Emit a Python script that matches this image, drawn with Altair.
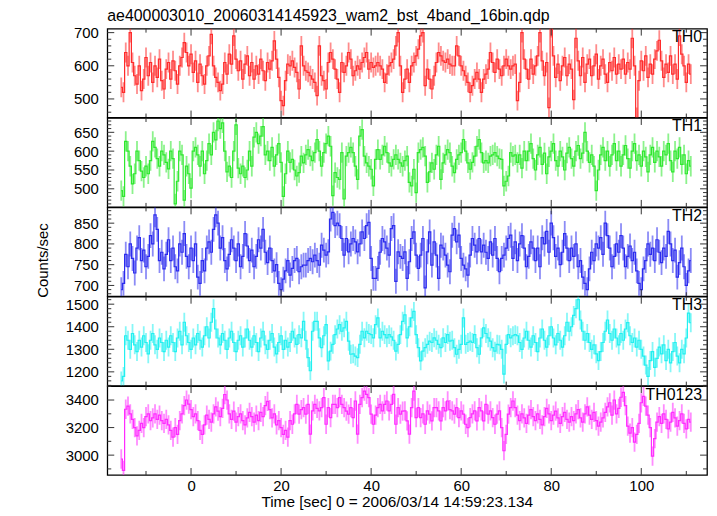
import altair as alt
import pandas as pd

# ---------------- data: 0.5 s bins starting at t = -15.5 s ----------------
T0 = -15.5
DT = 0.5

TH0 = [
    # -15.5 .. 21.5
    535, 520, 640, 600, 700, 610, 570, 545, 600, 525, 560, 625, 570, 610, 550, 600, 565, 620, 555, 530,
    590, 610, 560, 615, 585, 545, 600, 625, 670, 640, 600, 635, 580, 615, 550, 605, 570, 545, 600, 630,
    695, 600, 565, 550, 525, 545, 610, 575, 635, 605, 690, 620, 585, 615, 560, 605, 630, 570, 610, 560,
    600, 575, 620, 585, 555, 610, 590, 615, 675, 620, 565, 495, 480, 555, 605,
    # 22 .. 72
    600, 615, 595, 580, 530, 660, 600, 585, 580, 570,
    560, 550, 510, 660, 570, 555, 530, 610, 640, 620,
    590, 560, 520, 610, 580, 600, 640, 620, 570, 585,
    600, 590, 610, 625, 640, 590, 610, 595, 600, 610,
    600, 590, 550, 575, 600, 610, 620, 660, 700, 600,
    520, 560, 590, 550, 600, 610, 630, 650, 690, 700,
    540, 590, 560, 530, 570, 610, 640, 630, 615, 610,
    620, 605, 600, 600, 660, 630, 600, 585, 570, 550,
    520, 540, 560, 580, 560, 520, 560, 575, 590, 640,
    610, 580, 620, 590, 570, 600, 620, 600, 590, 600,
    605,
    # 72.5 .. 111
    495, 550, 700, 620,
    590, 560, 620, 575, 600, 630, 700, 615, 570, 610, 474, 715, 630, 565, 605, 555, 600, 625, 570, 605,
    590, 498, 683, 615, 570, 625, 550, 605, 620, 570, 600, 635, 560, 600, 620, 575, 550, 610, 585, 625,
    575, 605, 590, 620, 575, 610, 590, 683, 600, 444, 555, 615, 585, 630, 565, 605, 575, 620, 645, 677,
    615, 565, 605, 580, 630, 575, 605, 560, 690, 635, 600, 550, 605, 575,
]

TH1 = [
    495, 480, 626, 600, 560, 513, 540, 600, 575, 547, 530, 560, 540, 575, 626, 610, 580, 560, 600, 590,
    570, 553, 600, 580, 460, 520, 600, 590, 470, 560, 540, 502, 600, 610, 590, 560, 600, 540, 575, 620,
    590, 650, 630, 680, 660, 675, 600, 545, 560, 530, 600, 670, 555, 540, 560, 530, 550, 600, 560, 637,
    650, 620, 640, 665, 590, 600, 575, 610, 560, 590, 620, 570, 480, 540, 600,
    570, 578, 550, 534, 543, 587, 569, 590, 604, 587,
    575, 596, 631, 600, 560, 596, 620, 640, 613, 482,
    543, 530, 525, 596, 473, 587, 596, 610, 596, 560,
    525, 640, 657, 587, 569, 560, 552, 508, 578, 604,
    578, 590, 613, 596, 569, 560, 578, 590, 578, 569,
    560, 575, 587, 517, 508, 552, 490, 596, 604, 610,
    587, 517, 545, 569, 552, 590, 613, 525, 569, 590,
    604, 596, 560, 543, 578, 590, 596, 631, 600, 569,
    552, 570, 587, 613, 631, 596, 569, 575, 569, 587,
    590, 596, 587, 580, 578, 508, 520, 534, 596, 587,
    590,
    570, 590, 555, 600,
    575, 600, 620, 580, 550, 590, 610, 565, 595, 540, 585, 600, 620, 575, 560, 600, 585, 550, 595, 610,
    580, 560, 600, 615, 580, 595, 650, 600, 570, 590, 560, 495, 550, 590, 610, 575, 600, 560, 590, 620,
    575, 600, 560, 590, 615, 580, 555, 600, 620, 575, 590, 560, 600, 585, 545, 590, 610, 570, 600, 585,
    560, 600, 590, 620, 575, 545, 600, 580, 610, 565, 590, 540, 575, 560,
]

TH2 = [
    690, 705, 775, 745, 800, 765, 730, 790, 815, 760, 785, 745, 770, 820, 800, 870, 835, 760, 780, 740,
    775, 810, 760, 790, 745, 735, 800, 780, 825, 770, 745, 790, 760, 800, 720, 705, 760, 735, 790, 805,
    780, 835, 870, 850, 790, 815, 760, 740, 775, 810, 790, 760, 800, 745, 770, 825, 795, 760, 785, 745,
    770, 810, 790, 835, 780, 755, 790, 760, 735, 750, 705, 690, 715, 735, 760,
    725, 741, 760, 765, 733, 745, 749, 749, 760, 765,
    757, 773, 760, 749, 797, 785, 773, 781, 860, 876,
    844, 850, 844, 813, 773, 813, 781, 800, 813, 805,
    781, 800, 829, 813, 844, 852, 765, 717, 717, 741,
    780, 813, 805, 790, 773, 837, 844, 710, 781, 770,
    765, 781, 717, 757, 813, 829, 773, 741, 773, 813,
    694, 781, 829, 749, 805, 773, 717, 797, 790, 773,
    749, 733, 821, 837, 805, 821, 765, 749, 740, 725,
    773, 813, 797, 781, 813, 781, 797, 780, 765, 805,
    773, 813, 765, 733, 765, 773, 790, 813, 821, 765,
    805,
    760, 800, 820, 790,
    745, 770, 805, 790, 760, 790, 745, 815, 800, 830, 780, 850, 815, 770, 790, 750, 780, 825, 790, 760,
    790, 770, 800, 745, 760, 720, 705, 690, 740, 780, 760, 800, 790, 815, 775, 850, 820, 790, 745, 770,
    800, 780, 820, 790, 745, 770, 795, 760, 780, 735, 705, 690, 740, 760, 800, 775, 790, 760, 810, 780,
    755, 790, 770, 830, 800, 760, 785, 720, 755, 790, 745, 700, 735, 760,
]

TH3 = [
    1160, 1180, 1360, 1340, 1300, 1370, 1320, 1290, 1340, 1310, 1360, 1330, 1280, 1340, 1370, 1320, 1300, 1350, 1330, 1290,
    1340, 1310, 1360, 1330, 1290, 1350, 1380, 1320, 1420, 1360, 1330, 1300, 1350, 1320, 1370, 1340, 1310, 1360, 1400, 1350,
    1420, 1480, 1390, 1350, 1320, 1370, 1340, 1300, 1350, 1380, 1330, 1290, 1340, 1360, 1310, 1350, 1390, 1340, 1310, 1360,
    1330, 1290, 1350, 1380, 1320, 1300, 1340, 1370, 1310, 1280, 1330, 1360, 1300, 1340, 1310,
    1330, 1380, 1350, 1322, 1365, 1351, 1424, 1340, 1263, 1205,
    1380, 1424, 1424, 1351, 1307, 1360, 1409, 1249, 1292, 1322,
    1365, 1390, 1409, 1380, 1395, 1424, 1336, 1278, 1280, 1270,
    1263, 1322, 1380, 1351, 1380, 1370, 1365, 1351, 1409, 1439,
    1351, 1380, 1365, 1351, 1365, 1355, 1340, 1292, 1322, 1365,
    1424, 1453, 1351, 1400, 1439, 1468, 1365, 1307, 1249, 1292,
    1307, 1322, 1336, 1330, 1351, 1340, 1322, 1307, 1351, 1330,
    1365, 1336, 1340, 1307, 1278, 1300, 1322, 1439, 1322, 1330,
    1336, 1330, 1365, 1307, 1278, 1351, 1395, 1370, 1351, 1336,
    1307, 1292, 1322, 1320, 1300, 1190, 1322, 1365, 1351, 1360,
    1365,
    1360, 1330, 1300, 1350,
    1380, 1340, 1310, 1360, 1330, 1290, 1350, 1390, 1340, 1310, 1360, 1400, 1350, 1320, 1370, 1340, 1310, 1360, 1420, 1380,
    1400, 1450, 1480, 1520, 1430, 1380, 1340, 1370, 1330, 1300, 1320, 1280, 1250, 1290, 1330, 1380, 1430, 1370, 1340, 1390,
    1350, 1320, 1370, 1340, 1390, 1418, 1360, 1330, 1350, 1310, 1340, 1300, 1270, 1230, 1180, 1250, 1290, 1220, 1260, 1310,
    1280, 1320, 1250, 1300, 1240, 1290, 1330, 1270, 1240, 1300, 1280, 1350, 1460, 1418,
]

TH0123 = [
    2972, 2890, 3333, 3355, 3300, 3260, 3200, 3140, 3180, 3230, 3200, 3280, 3300, 3250, 3270, 3300, 3260, 3290, 3250, 3230,
    3260, 3220, 3180, 3130, 3200, 3150, 3250, 3300, 3360, 3400, 3370, 3330, 3280, 3300, 3250, 3180, 3150, 3220, 3290, 3260,
    3240, 3300, 3350, 3320, 3280, 3340, 3440, 3400, 3300, 3260, 3320, 3240, 3280, 3300, 3250, 3220, 3270, 3310, 3280, 3240,
    3290, 3250, 3310, 3280, 3360, 3390, 3330, 3270, 3300, 3220, 3250, 3200, 3150, 3180, 3130,
    3250, 3224, 3300, 3369, 3297, 3330, 3345, 3297, 3369, 3152,
    3321, 3369, 3340, 3321, 3345, 3417, 3224, 3345, 3272, 3369,
    3369, 3345, 3417, 3369, 3345, 3320, 3297, 3345, 3272, 3393,
    3152, 3369, 3417, 3465, 3441, 3417, 3297, 3224, 3290, 3345,
    3369, 3321, 3369, 3393, 3321, 3369, 3441, 3224, 3345, 3297,
    3320, 3321, 3248, 3152, 3345, 3465, 3272, 3345, 3272, 3300,
    3224, 3321, 3297, 3248, 3345, 3345, 3321, 3248, 3345, 3321,
    3393, 3330, 3321, 3297, 3345, 3272, 3321, 3297, 3224, 3200,
    3272, 3300, 3321, 3248, 3345, 3321, 3248, 3369, 3297, 3321,
    3272, 3224, 3297, 3321, 3200, 3032, 3150, 3297, 3345, 3393,
    3345,
    3290, 3250, 3300, 3270,
    3230, 3290, 3330, 3280, 3250, 3300, 3260, 3220, 3280, 3340, 3300, 3250, 3290, 3320, 3270, 3230, 3280, 3310, 3260, 3240,
    3280, 3250, 3300, 3330, 3270, 3240, 3300, 3350, 3290, 3260, 3311, 3250, 3210, 3240, 3270, 3310, 3350, 3380, 3290, 3400,
    3300, 3340, 3420, 3455, 3360, 3210, 3160, 3200, 3095, 3150, 3230, 3380, 3427, 3355, 3290, 3200, 2993, 3120, 3240, 3280,
    3230, 3300, 3260, 3190, 3240, 3310, 3270, 3210, 3250, 3300, 3230, 3190, 3260, 3240,
]

SERIES = [TH0, TH1, TH2, TH3, TH0123]
NAMES = ["TH0", "TH1", "TH2", "TH3", "TH0123"]
ERRS = [30, 27, 30, 42, 70]
COLORS = ["#ff2b2b", "#2ee82e", "#2b2bee", "#22f0f0", "#ff2bff"]

YDOM = [[444, 712], [452, 688], [674, 888], [1139, 1533], [2856, 3501]]
YMAJOR = [[500, 600, 700], [500, 550, 600, 650], [700, 750, 800, 850],
          [1200, 1300, 1400, 1500], [3000, 3200, 3400]]
YMINOR_STEP = [20, 10, 10, 20, 100]
XDOM = [-18.6, 114.6]
XMAJOR = [0, 20, 40, 60, 80, 100]
XMINOR = [-10, 10, 30, 50, 70, 90, 110]

TITLE = "ae400003010_20060314145923_wam2_bst_4band_16bin.qdp"
XTITLE = "Time [sec] 0 = 2006/03/14 14:59:23.134"
YTITLE = "Counts/sec"

# ---------------- layout / style ----------------
W = 604
H = 89.5
FONT = "Liberation Sans"
MAJ_LEN = 7
MIN_LEN = 4
TICK_COLOR = "#333333"


def minor_ticks(dom, step, majors):
    start = (int(dom[0]) // step + 1) * step
    return [v for v in range(start, int(dom[1]) + 1, step) if v not in majors]


xsc = alt.Scale(domain=XDOM, nice=False, zero=False)


def panel(i):
    vals = SERIES[i]
    n = len(vals)
    df = pd.DataFrame({"t": [T0 + DT * k for k in range(n)], "rate": vals})
    df["lo"] = df["rate"] - ERRS[i]
    df["hi"] = df["rate"] + ERRS[i]
    ysc = alt.Scale(domain=YDOM[i], nice=False, zero=False)
    last = i == len(SERIES) - 1
    color = COLORS[i]

    yax = dict(values=YMAJOR[i], format="d", ticks=False, domain=False, grid=False,
               labelPadding=9, labelFontSize=15, labelFont=FONT, labelColor="black",
               labelOverlap=False, title=" ")
    if i == 2:
        yax.update(title=YTITLE, titleX=-65.5, titleY=53, titleAngle=270,
                   titleAlign="center", titleBaseline="middle", titleFontSize=15,
                   titleFontWeight="normal", titleFont=FONT, titleColor="black")
    yaxis = alt.Axis(**yax)

    if last:
        xaxis = alt.Axis(values=XMAJOR, format="d", ticks=False, domain=False, grid=False,
                         labelPadding=4, labelFontSize=15, labelFont=FONT, labelColor="black",
                         title=XTITLE, titleFontSize=15.5, titleFontWeight="normal",
                         titleFont=FONT, titleColor="black", titleX=291.5, titleY=27,
                         titleAlign="center", titleBaseline="middle")
    else:
        xaxis = None

    def X(field):
        return alt.X(field, scale=xsc, axis=xaxis)

    def Y(field):
        return alt.Y(field, scale=ysc, axis=yaxis)

    err = alt.Chart(df).mark_rule(
        color=color, strokeWidth=1.8, opacity=0.55, clip=True
    ).encode(x=X("t:Q"), y=Y("lo:Q"), y2="hi:Q")

    line = alt.Chart(df).mark_line(
        color=color, strokeWidth=1.2, interpolate="step", clip=True
    ).encode(x=X("t:Q"), y=Y("rate:Q"))

    def ytick_layer(tv, x0, x1):
        return alt.Chart(pd.DataFrame({"v": tv})).mark_rule(
            color=TICK_COLOR, strokeWidth=1
        ).encode(y=Y("v:Q"), x=alt.value(x0), x2=alt.value(x1))

    def xtick_layer(tv, y0, y1):
        return alt.Chart(pd.DataFrame({"v": tv})).mark_rule(
            color=TICK_COLOR, strokeWidth=1
        ).encode(x=X("v:Q"), y=alt.value(y0), y2=alt.value(y1))

    ymin = minor_ticks(YDOM[i], YMINOR_STEP[i], YMAJOR[i])
    ticks = [
        ytick_layer(YMAJOR[i], 0, MAJ_LEN),
        ytick_layer(ymin, 0, MIN_LEN),
        ytick_layer(YMAJOR[i], W, W - MAJ_LEN),
        ytick_layer(ymin, W, W - MIN_LEN),
        xtick_layer(XMAJOR, 0, MAJ_LEN),
        xtick_layer(XMINOR, 0, MIN_LEN),
        xtick_layer(XMAJOR, H, H - MAJ_LEN),
        xtick_layer(XMINOR, H, H - MIN_LEN),
    ]

    lab = alt.Chart(pd.DataFrame({"name": [NAMES[i]]})).mark_text(
        align="right", baseline="middle", fontSize=16, font=FONT, color="black"
    ).encode(x=alt.value(W - 5), y=alt.value(8.5), text="name:N")

    layer = alt.layer(err, line, *ticks, lab).properties(width=W, height=H)
    if i == 0:
        layer = layer.properties(
            title=alt.TitleParams(text=TITLE, anchor="start", frame="group", fontSize=16,
                                  fontWeight="normal", font=FONT, color="black", offset=1.5)
        )
    return layer


panels = [panel(i) for i in range(len(SERIES))]

chart = alt.vconcat(*panels, spacing=0, bounds="flush").properties(
    padding={"left": 26, "top": -3, "right": 0, "bottom": 0}
).configure_view(
    stroke="black", strokeWidth=1.3
)

chart.save("out.html", embed_options={"renderer": "svg", "actions": False})
